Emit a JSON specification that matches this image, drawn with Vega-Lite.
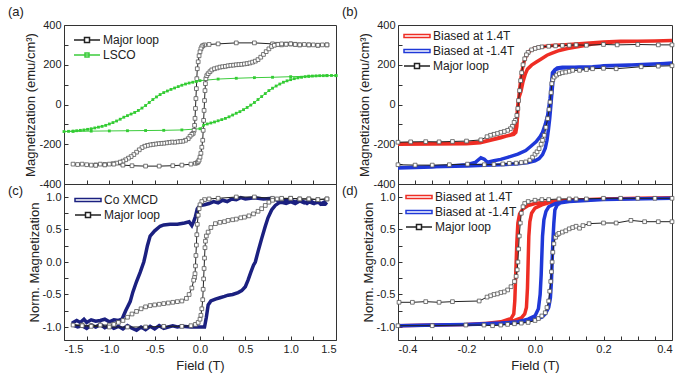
{
"$schema": "https://vega.github.io/schema/vega-lite/v6.json",
"padding": {"left": 7, "top": 5, "right": 5, "bottom": 5},
"background": "white",
"config": {
  "font": "Liberation Sans",
  "view": {"stroke": "#333", "strokeWidth": 1},
  "axis": {"grid": false, "domain": false, "tickSize": -4, "tickColor": "#333", "labelFontSize": 11, "labelColor": "#222", "titleFontSize": 13, "titleFontWeight": "normal", "titleColor": "#222", "labelPadding": 7, "labelFont": "Liberation Sans", "titleFont": "Liberation Sans"},
  "axisY": {"titlePadding": 1},
  "title": {"fontSize": 13, "fontWeight": "normal", "anchor": "start", "frame": "group", "color": "#222", "font": "Liberation Sans"},
  "legend": {"symbolSize": 100, "labelFontSize": 12, "labelColor": "#222", "labelOffset": 18, "rowPadding": 3, "labelFont": "Liberation Sans", "symbolOpacity": 1}
},
"datasets": {
"a": [
{"s":"Major loop","x":1.4,"y":300},{"s":"Major loop","x":1.35,"y":300},{"s":"Major loop","x":1.3,"y":298},{"s":"Major loop","x":1.25,"y":300},{"s":"Major loop","x":1.2,"y":300},{"s":"Major loop","x":1.15,"y":302},{"s":"Major loop","x":1.1,"y":300},{"s":"Major loop","x":1.05,"y":303},{"s":"Major loop","x":1.0,"y":305},{"s":"Major loop","x":0.95,"y":304},{"s":"Major loop","x":0.9,"y":300},{"s":"Major loop","x":0.85,"y":303},{"s":"Major loop","x":0.8,"y":305},{"s":"Major loop","x":0.6,"y":310},{"s":"Major loop","x":0.4,"y":310},{"s":"Major loop","x":0.2,"y":305},{"s":"Major loop","x":0.1,"y":302},{"s":"Major loop","x":0.05,"y":300},{"s":"Major loop","x":0.03,"y":296},{"s":"Major loop","x":0.02,"y":290},{"s":"Major loop","x":0.01,"y":280},{"s":"Major loop","x":0.0,"y":265},{"s":"Major loop","x":-0.01,"y":245},{"s":"Major loop","x":-0.02,"y":215},{"s":"Major loop","x":-0.03,"y":180},{"s":"Major loop","x":-0.035,"y":130},{"s":"Major loop","x":-0.04,"y":80},{"s":"Major loop","x":-0.045,"y":30},{"s":"Major loop","x":-0.05,"y":-20},{"s":"Major loop","x":-0.055,"y":-70},{"s":"Major loop","x":-0.06,"y":-105},{"s":"Major loop","x":-0.065,"y":-130},{"s":"Major loop","x":-0.075,"y":-145},{"s":"Major loop","x":-0.09,"y":-150},{"s":"Major loop","x":-0.11,"y":-160},{"s":"Major loop","x":-0.13,"y":-172},{"s":"Major loop","x":-0.16,"y":-180},{"s":"Major loop","x":-0.19,"y":-185},{"s":"Major loop","x":-0.22,"y":-186},{"s":"Major loop","x":-0.25,"y":-188},{"s":"Major loop","x":-0.28,"y":-190},{"s":"Major loop","x":-0.31,"y":-189},{"s":"Major loop","x":-0.34,"y":-191},{"s":"Major loop","x":-0.37,"y":-193},{"s":"Major loop","x":-0.4,"y":-195},{"s":"Major loop","x":-0.43,"y":-196},{"s":"Major loop","x":-0.46,"y":-197},{"s":"Major loop","x":-0.49,"y":-199},{"s":"Major loop","x":-0.52,"y":-201},{"s":"Major loop","x":-0.55,"y":-203},{"s":"Major loop","x":-0.58,"y":-206},{"s":"Major loop","x":-0.61,"y":-210},{"s":"Major loop","x":-0.64,"y":-217},{"s":"Major loop","x":-0.67,"y":-228},{"s":"Major loop","x":-0.7,"y":-240},{"s":"Major loop","x":-0.73,"y":-252},{"s":"Major loop","x":-0.76,"y":-262},{"s":"Major loop","x":-0.79,"y":-270},{"s":"Major loop","x":-0.82,"y":-278},{"s":"Major loop","x":-0.85,"y":-285},{"s":"Major loop","x":-0.88,"y":-290},{"s":"Major loop","x":-0.92,"y":-295},{"s":"Major loop","x":-0.96,"y":-298},{"s":"Major loop","x":-1.0,"y":-300},{"s":"Major loop","x":-1.05,"y":-302},{"s":"Major loop","x":-1.1,"y":-300},{"s":"Major loop","x":-1.15,"y":-304},{"s":"Major loop","x":-1.2,"y":-305},{"s":"Major loop","x":-1.3,"y":-300},{"s":"Major loop","x":-1.4,"y":-300},
{"s":"Major loop","x":-1.35,"y":-302},{"s":"Major loop","x":-1.25,"y":-303},{"s":"Major loop","x":-1.15,"y":-306},{"s":"Major loop","x":-1.05,"y":-304},{"s":"Major loop","x":-0.95,"y":-300},{"s":"Major loop","x":-0.85,"y":-305},{"s":"Major loop","x":-0.75,"y":-308},{"s":"Major loop","x":-0.6,"y":-310},{"s":"Major loop","x":-0.45,"y":-310},{"s":"Major loop","x":-0.3,"y":-308},{"s":"Major loop","x":-0.2,"y":-305},{"s":"Major loop","x":-0.1,"y":-300},{"s":"Major loop","x":-0.05,"y":-296},{"s":"Major loop","x":-0.03,"y":-293},{"s":"Major loop","x":-0.02,"y":-288},{"s":"Major loop","x":-0.01,"y":-280},{"s":"Major loop","x":0.0,"y":-265},{"s":"Major loop","x":0.01,"y":-245},{"s":"Major loop","x":0.02,"y":-215},{"s":"Major loop","x":0.03,"y":-180},{"s":"Major loop","x":0.035,"y":-130},{"s":"Major loop","x":0.04,"y":-80},{"s":"Major loop","x":0.045,"y":-30},{"s":"Major loop","x":0.05,"y":20},{"s":"Major loop","x":0.055,"y":70},{"s":"Major loop","x":0.06,"y":105},{"s":"Major loop","x":0.065,"y":130},{"s":"Major loop","x":0.075,"y":145},{"s":"Major loop","x":0.09,"y":155},{"s":"Major loop","x":0.11,"y":165},{"s":"Major loop","x":0.13,"y":174},{"s":"Major loop","x":0.16,"y":180},{"s":"Major loop","x":0.19,"y":184},{"s":"Major loop","x":0.22,"y":188},{"s":"Major loop","x":0.25,"y":190},{"s":"Major loop","x":0.28,"y":192},{"s":"Major loop","x":0.31,"y":195},{"s":"Major loop","x":0.34,"y":197},{"s":"Major loop","x":0.37,"y":198},{"s":"Major loop","x":0.4,"y":200},{"s":"Major loop","x":0.43,"y":201},{"s":"Major loop","x":0.46,"y":202},{"s":"Major loop","x":0.49,"y":204},{"s":"Major loop","x":0.52,"y":206},{"s":"Major loop","x":0.55,"y":209},{"s":"Major loop","x":0.58,"y":213},{"s":"Major loop","x":0.61,"y":218},{"s":"Major loop","x":0.64,"y":226},{"s":"Major loop","x":0.67,"y":238},{"s":"Major loop","x":0.7,"y":252},{"s":"Major loop","x":0.73,"y":266},{"s":"Major loop","x":0.76,"y":280},{"s":"Major loop","x":0.79,"y":292},{"s":"Major loop","x":0.82,"y":298},{"s":"Major loop","x":0.86,"y":302},{"s":"Major loop","x":0.9,"y":305},{"s":"Major loop","x":0.95,"y":303},{"s":"Major loop","x":1.0,"y":305},{"s":"Major loop","x":1.05,"y":302},{"s":"Major loop","x":1.1,"y":300},{"s":"Major loop","x":1.2,"y":300},{"s":"Major loop","x":1.3,"y":298},{"s":"Major loop","x":1.4,"y":300},
{"s":"LSCO","x":1.5,"y":145},{"s":"LSCO","x":1.4,"y":145},{"s":"LSCO","x":1.2,"y":142},{"s":"LSCO","x":1.0,"y":140},{"s":"LSCO","x":0.8,"y":137},{"s":"LSCO","x":0.6,"y":135},{"s":"LSCO","x":0.4,"y":132},{"s":"LSCO","x":0.2,"y":128},{"s":"LSCO","x":0.0,"y":120},{"s":"LSCO","x":-0.04,"y":116},{"s":"LSCO","x":-0.08,"y":112},{"s":"LSCO","x":-0.12,"y":108},{"s":"LSCO","x":-0.16,"y":103},{"s":"LSCO","x":-0.2,"y":97},{"s":"LSCO","x":-0.24,"y":90},{"s":"LSCO","x":-0.28,"y":83},{"s":"LSCO","x":-0.32,"y":76},{"s":"LSCO","x":-0.36,"y":68},{"s":"LSCO","x":-0.4,"y":60},{"s":"LSCO","x":-0.44,"y":50},{"s":"LSCO","x":-0.48,"y":38},{"s":"LSCO","x":-0.52,"y":25},{"s":"LSCO","x":-0.56,"y":10},{"s":"LSCO","x":-0.6,"y":-5},{"s":"LSCO","x":-0.64,"y":-18},{"s":"LSCO","x":-0.68,"y":-30},{"s":"LSCO","x":-0.72,"y":-40},{"s":"LSCO","x":-0.76,"y":-48},{"s":"LSCO","x":-0.8,"y":-56},{"s":"LSCO","x":-0.84,"y":-64},{"s":"LSCO","x":-0.88,"y":-74},{"s":"LSCO","x":-0.92,"y":-83},{"s":"LSCO","x":-0.96,"y":-91},{"s":"LSCO","x":-1.0,"y":-98},{"s":"LSCO","x":-1.04,"y":-105},{"s":"LSCO","x":-1.08,"y":-110},{"s":"LSCO","x":-1.12,"y":-114},{"s":"LSCO","x":-1.16,"y":-118},{"s":"LSCO","x":-1.2,"y":-122},{"s":"LSCO","x":-1.24,"y":-125},{"s":"LSCO","x":-1.28,"y":-128},{"s":"LSCO","x":-1.32,"y":-130},{"s":"LSCO","x":-1.36,"y":-132},{"s":"LSCO","x":-1.4,"y":-134},{"s":"LSCO","x":-1.45,"y":-135},{"s":"LSCO","x":-1.5,"y":-136},
{"s":"LSCO","x":-1.4,"y":-135},{"s":"LSCO","x":-1.2,"y":-134},{"s":"LSCO","x":-1.0,"y":-133},{"s":"LSCO","x":-0.8,"y":-132},{"s":"LSCO","x":-0.6,"y":-131},{"s":"LSCO","x":-0.4,"y":-130},{"s":"LSCO","x":-0.2,"y":-128},{"s":"LSCO","x":0.0,"y":-122},{"s":"LSCO","x":0.04,"y":-104},{"s":"LSCO","x":0.08,"y":-98},{"s":"LSCO","x":0.12,"y":-93},{"s":"LSCO","x":0.16,"y":-88},{"s":"LSCO","x":0.2,"y":-82},{"s":"LSCO","x":0.24,"y":-76},{"s":"LSCO","x":0.28,"y":-70},{"s":"LSCO","x":0.32,"y":-62},{"s":"LSCO","x":0.36,"y":-53},{"s":"LSCO","x":0.4,"y":-44},{"s":"LSCO","x":0.44,"y":-36},{"s":"LSCO","x":0.48,"y":-26},{"s":"LSCO","x":0.52,"y":-15},{"s":"LSCO","x":0.56,"y":-3},{"s":"LSCO","x":0.6,"y":10},{"s":"LSCO","x":0.64,"y":25},{"s":"LSCO","x":0.68,"y":40},{"s":"LSCO","x":0.72,"y":55},{"s":"LSCO","x":0.76,"y":70},{"s":"LSCO","x":0.8,"y":82},{"s":"LSCO","x":0.84,"y":93},{"s":"LSCO","x":0.88,"y":103},{"s":"LSCO","x":0.92,"y":112},{"s":"LSCO","x":0.96,"y":119},{"s":"LSCO","x":1.0,"y":125},{"s":"LSCO","x":1.04,"y":130},{"s":"LSCO","x":1.08,"y":134},{"s":"LSCO","x":1.12,"y":137},{"s":"LSCO","x":1.16,"y":140},{"s":"LSCO","x":1.2,"y":142},{"s":"LSCO","x":1.24,"y":143},{"s":"LSCO","x":1.28,"y":144},{"s":"LSCO","x":1.32,"y":145},{"s":"LSCO","x":1.36,"y":145},{"s":"LSCO","x":1.4,"y":146},{"s":"LSCO","x":1.45,"y":146},{"s":"LSCO","x":1.5,"y":146}
],
"b": [
{"s":"Biased at 1.4T","x":0.4,"y":322},{"s":"Biased at 1.4T","x":0.35,"y":320},{"s":"Biased at 1.4T","x":0.3,"y":318},{"s":"Biased at 1.4T","x":0.25,"y":318},{"s":"Biased at 1.4T","x":0.2,"y":314},{"s":"Biased at 1.4T","x":0.15,"y":308},{"s":"Biased at 1.4T","x":0.1,"y":302},{"s":"Biased at 1.4T","x":0.05,"y":297},{"s":"Biased at 1.4T","x":0.02,"y":291},{"s":"Biased at 1.4T","x":0.0,"y":283},{"s":"Biased at 1.4T","x":-0.015,"y":270},{"s":"Biased at 1.4T","x":-0.025,"y":248},{"s":"Biased at 1.4T","x":-0.032,"y":215},{"s":"Biased at 1.4T","x":-0.038,"y":170},{"s":"Biased at 1.4T","x":-0.042,"y":120},{"s":"Biased at 1.4T","x":-0.046,"y":60},{"s":"Biased at 1.4T","x":-0.049,"y":0},{"s":"Biased at 1.4T","x":-0.051,"y":-60},{"s":"Biased at 1.4T","x":-0.053,"y":-110},{"s":"Biased at 1.4T","x":-0.056,"y":-140},{"s":"Biased at 1.4T","x":-0.062,"y":-150},{"s":"Biased at 1.4T","x":-0.08,"y":-157},{"s":"Biased at 1.4T","x":-0.1,"y":-165},{"s":"Biased at 1.4T","x":-0.13,"y":-178},{"s":"Biased at 1.4T","x":-0.16,"y":-190},{"s":"Biased at 1.4T","x":-0.2,"y":-195},{"s":"Biased at 1.4T","x":-0.3,"y":-197},{"s":"Biased at 1.4T","x":-0.4,"y":-198},
{"s":"Biased at 1.4T","x":-0.4,"y":-200},{"s":"Biased at 1.4T","x":-0.3,"y":-199},{"s":"Biased at 1.4T","x":-0.2,"y":-197},{"s":"Biased at 1.4T","x":-0.16,"y":-193},{"s":"Biased at 1.4T","x":-0.1,"y":-168},{"s":"Biased at 1.4T","x":-0.07,"y":-152},{"s":"Biased at 1.4T","x":-0.06,"y":-140},{"s":"Biased at 1.4T","x":-0.055,"y":-100},{"s":"Biased at 1.4T","x":-0.052,"y":-40},{"s":"Biased at 1.4T","x":-0.049,"y":20},{"s":"Biased at 1.4T","x":-0.045,"y":45},{"s":"Biased at 1.4T","x":-0.041,"y":65},{"s":"Biased at 1.4T","x":-0.035,"y":115},{"s":"Biased at 1.4T","x":-0.028,"y":155},{"s":"Biased at 1.4T","x":-0.022,"y":178},{"s":"Biased at 1.4T","x":-0.01,"y":198},{"s":"Biased at 1.4T","x":0.005,"y":215},{"s":"Biased at 1.4T","x":0.017,"y":228},{"s":"Biased at 1.4T","x":0.035,"y":248},{"s":"Biased at 1.4T","x":0.05,"y":258},{"s":"Biased at 1.4T","x":0.071,"y":272},{"s":"Biased at 1.4T","x":0.095,"y":282},{"s":"Biased at 1.4T","x":0.12,"y":289},{"s":"Biased at 1.4T","x":0.145,"y":297},{"s":"Biased at 1.4T","x":0.168,"y":304},{"s":"Biased at 1.4T","x":0.2,"y":310},{"s":"Biased at 1.4T","x":0.237,"y":316},{"s":"Biased at 1.4T","x":0.3,"y":318},{"s":"Biased at 1.4T","x":0.35,"y":320},{"s":"Biased at 1.4T","x":0.4,"y":322},
{"s":"Biased at -1.4T","x":0.4,"y":206},{"s":"Biased at -1.4T","x":0.35,"y":204},{"s":"Biased at -1.4T","x":0.3,"y":200},{"s":"Biased at -1.4T","x":0.25,"y":198},{"s":"Biased at -1.4T","x":0.2,"y":195},{"s":"Biased at -1.4T","x":0.17,"y":188},{"s":"Biased at -1.4T","x":0.15,"y":182},{"s":"Biased at -1.4T","x":0.13,"y":185},{"s":"Biased at -1.4T","x":0.1,"y":187},{"s":"Biased at -1.4T","x":0.08,"y":187},{"s":"Biased at -1.4T","x":0.065,"y":184},{"s":"Biased at -1.4T","x":0.058,"y":175},{"s":"Biased at -1.4T","x":0.055,"y":150},{"s":"Biased at -1.4T","x":0.052,"y":110},{"s":"Biased at -1.4T","x":0.049,"y":50},{"s":"Biased at -1.4T","x":0.046,"y":-10},{"s":"Biased at -1.4T","x":0.043,"y":-70},{"s":"Biased at -1.4T","x":0.039,"y":-130},{"s":"Biased at -1.4T","x":0.035,"y":-180},{"s":"Biased at -1.4T","x":0.03,"y":-220},{"s":"Biased at -1.4T","x":0.022,"y":-252},{"s":"Biased at -1.4T","x":0.012,"y":-272},{"s":"Biased at -1.4T","x":0.0,"y":-283},{"s":"Biased at -1.4T","x":-0.02,"y":-292},{"s":"Biased at -1.4T","x":-0.05,"y":-298},{"s":"Biased at -1.4T","x":-0.1,"y":-303},{"s":"Biased at -1.4T","x":-0.15,"y":-306},{"s":"Biased at -1.4T","x":-0.2,"y":-309},{"s":"Biased at -1.4T","x":-0.3,"y":-313},{"s":"Biased at -1.4T","x":-0.4,"y":-318},
{"s":"Biased at -1.4T","x":-0.4,"y":-320},{"s":"Biased at -1.4T","x":-0.3,"y":-315},{"s":"Biased at -1.4T","x":-0.25,"y":-310},{"s":"Biased at -1.4T","x":-0.2,"y":-303},{"s":"Biased at -1.4T","x":-0.175,"y":-292},{"s":"Biased at -1.4T","x":-0.158,"y":-268},{"s":"Biased at -1.4T","x":-0.148,"y":-275},{"s":"Biased at -1.4T","x":-0.139,"y":-290},{"s":"Biased at -1.4T","x":-0.12,"y":-283},{"s":"Biased at -1.4T","x":-0.1,"y":-276},{"s":"Biased at -1.4T","x":-0.08,"y":-266},{"s":"Biased at -1.4T","x":-0.05,"y":-250},{"s":"Biased at -1.4T","x":-0.027,"y":-232},{"s":"Biased at -1.4T","x":-0.012,"y":-210},{"s":"Biased at -1.4T","x":0.003,"y":-188},{"s":"Biased at -1.4T","x":0.015,"y":-162},{"s":"Biased at -1.4T","x":0.022,"y":-140},{"s":"Biased at -1.4T","x":0.03,"y":-100},{"s":"Biased at -1.4T","x":0.037,"y":-54},{"s":"Biased at -1.4T","x":0.044,"y":29},{"s":"Biased at -1.4T","x":0.048,"y":100},{"s":"Biased at -1.4T","x":0.051,"y":160},{"s":"Biased at -1.4T","x":0.058,"y":175},{"s":"Biased at -1.4T","x":0.071,"y":182},{"s":"Biased at -1.4T","x":0.1,"y":186},{"s":"Biased at -1.4T","x":0.13,"y":189},{"s":"Biased at -1.4T","x":0.168,"y":190},{"s":"Biased at -1.4T","x":0.2,"y":194},{"s":"Biased at -1.4T","x":0.265,"y":198},{"s":"Biased at -1.4T","x":0.33,"y":202},{"s":"Biased at -1.4T","x":0.4,"y":207},
{"s":"Major loop","g":1,"x":0.4,"y":300},{"s":"Major loop","g":1,"x":0.36,"y":300},{"s":"Major loop","g":1,"x":0.3,"y":302},{"s":"Major loop","g":1,"x":0.24,"y":300},{"s":"Major loop","g":1,"x":0.2,"y":302},{"s":"Major loop","g":1,"x":0.15,"y":298},{"s":"Major loop","g":1,"x":0.12,"y":300},{"s":"Major loop","g":1,"x":0.1,"y":298},{"s":"Major loop","g":1,"x":0.08,"y":297},{"s":"Major loop","g":1,"x":0.06,"y":295},{"s":"Major loop","g":1,"x":0.04,"y":293},{"s":"Major loop","g":1,"x":0.02,"y":290},{"s":"Major loop","g":1,"x":0.01,"y":287},{"s":"Major loop","g":1,"x":0.0,"y":282},{"s":"Major loop","g":1,"x":-0.01,"y":275},{"s":"Major loop","g":1,"x":-0.02,"y":262},{"s":"Major loop","g":1,"x":-0.025,"y":250},{"s":"Major loop","g":1,"x":-0.03,"y":230},{"s":"Major loop","g":1,"x":-0.035,"y":200},{"s":"Major loop","g":1,"x":-0.039,"y":160},{"s":"Major loop","g":1,"x":-0.042,"y":120},{"s":"Major loop","g":1,"x":-0.045,"y":70},{"s":"Major loop","g":1,"x":-0.048,"y":20},{"s":"Major loop","g":1,"x":-0.05,"y":-20},{"s":"Major loop","g":1,"x":-0.053,"y":-55},{"s":"Major loop","g":1,"x":-0.057,"y":-80},{"s":"Major loop","g":1,"x":-0.061,"y":-90},{"s":"Major loop","g":1,"x":-0.066,"y":-110},{"s":"Major loop","g":1,"x":-0.072,"y":-122},{"s":"Major loop","g":1,"x":-0.08,"y":-130},{"s":"Major loop","g":1,"x":-0.09,"y":-136},{"s":"Major loop","g":1,"x":-0.1,"y":-140},{"s":"Major loop","g":1,"x":-0.11,"y":-146},{"s":"Major loop","g":1,"x":-0.12,"y":-150},{"s":"Major loop","g":1,"x":-0.13,"y":-155},{"s":"Major loop","g":1,"x":-0.14,"y":-162},{"s":"Major loop","g":1,"x":-0.158,"y":-178},{"s":"Major loop","g":1,"x":-0.2,"y":-184},{"s":"Major loop","g":1,"x":-0.241,"y":-186},{"s":"Major loop","g":1,"x":-0.28,"y":-188},{"s":"Major loop","g":1,"x":-0.319,"y":-187},{"s":"Major loop","g":1,"x":-0.363,"y":-188},{"s":"Major loop","g":1,"x":-0.4,"y":-190},
{"s":"Major loop","g":2,"x":-0.4,"y":-303},{"s":"Major loop","g":2,"x":-0.35,"y":-305},{"s":"Major loop","g":2,"x":-0.3,"y":-305},{"s":"Major loop","g":2,"x":-0.25,"y":-303},{"s":"Major loop","g":2,"x":-0.197,"y":-300},{"s":"Major loop","g":2,"x":-0.148,"y":-303},{"s":"Major loop","g":2,"x":-0.12,"y":-302},{"s":"Major loop","g":2,"x":-0.094,"y":-299},{"s":"Major loop","g":2,"x":-0.075,"y":-296},{"s":"Major loop","g":2,"x":-0.055,"y":-295},{"s":"Major loop","g":2,"x":-0.04,"y":-292},{"s":"Major loop","g":2,"x":-0.027,"y":-289},{"s":"Major loop","g":2,"x":-0.015,"y":-280},{"s":"Major loop","g":2,"x":-0.007,"y":-265},{"s":"Major loop","g":2,"x":0.0,"y":-250},{"s":"Major loop","g":2,"x":0.006,"y":-238},{"s":"Major loop","g":2,"x":0.012,"y":-222},{"s":"Major loop","g":2,"x":0.018,"y":-200},{"s":"Major loop","g":2,"x":0.022,"y":-180},{"s":"Major loop","g":2,"x":0.027,"y":-155},{"s":"Major loop","g":2,"x":0.032,"y":-115},{"s":"Major loop","g":2,"x":0.037,"y":-71},{"s":"Major loop","g":2,"x":0.041,"y":-25},{"s":"Major loop","g":2,"x":0.044,"y":12},{"s":"Major loop","g":2,"x":0.047,"y":60},{"s":"Major loop","g":2,"x":0.049,"y":105},{"s":"Major loop","g":2,"x":0.052,"y":125},{"s":"Major loop","g":2,"x":0.056,"y":138},{"s":"Major loop","g":2,"x":0.063,"y":148},{"s":"Major loop","g":2,"x":0.071,"y":155},{"s":"Major loop","g":2,"x":0.08,"y":160},{"s":"Major loop","g":2,"x":0.09,"y":163},{"s":"Major loop","g":2,"x":0.1,"y":167},{"s":"Major loop","g":2,"x":0.11,"y":172},{"s":"Major loop","g":2,"x":0.13,"y":172},{"s":"Major loop","g":2,"x":0.15,"y":176},{"s":"Major loop","g":2,"x":0.168,"y":180},{"s":"Major loop","g":2,"x":0.2,"y":182},{"s":"Major loop","g":2,"x":0.237,"y":180},{"s":"Major loop","g":2,"x":0.31,"y":190},{"s":"Major loop","g":2,"x":0.36,"y":193},{"s":"Major loop","g":2,"x":0.4,"y":195}
],
"c": [
{"s":"Co XMCD","x":1.4,"y":0.88},{"s":"Co XMCD","x":1.37,"y":0.92},{"s":"Co XMCD","x":1.33,"y":0.89},{"s":"Co XMCD","x":1.3,"y":0.93},{"s":"Co XMCD","x":1.26,"y":0.9},{"s":"Co XMCD","x":1.22,"y":0.94},{"s":"Co XMCD","x":1.18,"y":0.9},{"s":"Co XMCD","x":1.14,"y":0.93},{"s":"Co XMCD","x":1.1,"y":0.95},{"s":"Co XMCD","x":1.05,"y":0.92},{"s":"Co XMCD","x":1.0,"y":0.96},{"s":"Co XMCD","x":0.95,"y":0.94},{"s":"Co XMCD","x":0.9,"y":0.97},{"s":"Co XMCD","x":0.85,"y":0.95},{"s":"Co XMCD","x":0.8,"y":0.98},{"s":"Co XMCD","x":0.7,"y":0.97},{"s":"Co XMCD","x":0.6,"y":0.99},{"s":"Co XMCD","x":0.5,"y":0.97},{"s":"Co XMCD","x":0.45,"y":0.99},{"s":"Co XMCD","x":0.4,"y":0.96},{"s":"Co XMCD","x":0.35,"y":0.97},{"s":"Co XMCD","x":0.3,"y":0.93},{"s":"Co XMCD","x":0.25,"y":0.95},{"s":"Co XMCD","x":0.2,"y":0.91},{"s":"Co XMCD","x":0.15,"y":0.93},{"s":"Co XMCD","x":0.1,"y":0.9},{"s":"Co XMCD","x":0.05,"y":0.88},{"s":"Co XMCD","x":0.0,"y":0.87},{"s":"Co XMCD","x":-0.03,"y":0.82},{"s":"Co XMCD","x":-0.05,"y":0.7},{"s":"Co XMCD","x":-0.07,"y":0.62},{"s":"Co XMCD","x":-0.09,"y":0.56},{"s":"Co XMCD","x":-0.12,"y":0.62},{"s":"Co XMCD","x":-0.17,"y":0.6},{"s":"Co XMCD","x":-0.25,"y":0.58},{"s":"Co XMCD","x":-0.33,"y":0.58},{"s":"Co XMCD","x":-0.4,"y":0.57},{"s":"Co XMCD","x":-0.44,"y":0.55},{"s":"Co XMCD","x":-0.5,"y":0.48},{"s":"Co XMCD","x":-0.55,"y":0.4},{"s":"Co XMCD","x":-0.58,"y":0.25},{"s":"Co XMCD","x":-0.6,"y":0.12},{"s":"Co XMCD","x":-0.62,"y":0.0},{"s":"Co XMCD","x":-0.66,"y":-0.16},{"s":"Co XMCD","x":-0.7,"y":-0.3},{"s":"Co XMCD","x":-0.74,"y":-0.46},{"s":"Co XMCD","x":-0.77,"y":-0.61},{"s":"Co XMCD","x":-0.82,"y":-0.75},{"s":"Co XMCD","x":-0.86,"y":-0.88},{"s":"Co XMCD","x":-0.9,"y":-0.9},{"s":"Co XMCD","x":-0.95,"y":-0.89},{"s":"Co XMCD","x":-1.0,"y":-0.92},{"s":"Co XMCD","x":-1.05,"y":-0.88},{"s":"Co XMCD","x":-1.1,"y":-0.9},{"s":"Co XMCD","x":-1.15,"y":-0.91},{"s":"Co XMCD","x":-1.2,"y":-0.89},{"s":"Co XMCD","x":-1.25,"y":-0.93},{"s":"Co XMCD","x":-1.28,"y":-0.88},{"s":"Co XMCD","x":-1.32,"y":-0.93},{"s":"Co XMCD","x":-1.36,"y":-0.9},{"s":"Co XMCD","x":-1.4,"y":-0.93},
{"s":"Co XMCD","x":-1.4,"y":-0.97},{"s":"Co XMCD","x":-1.35,"y":-1.0},{"s":"Co XMCD","x":-1.3,"y":-0.98},{"s":"Co XMCD","x":-1.25,"y":-1.02},{"s":"Co XMCD","x":-1.2,"y":-0.97},{"s":"Co XMCD","x":-1.15,"y":-1.0},{"s":"Co XMCD","x":-1.1,"y":-0.96},{"s":"Co XMCD","x":-1.05,"y":-1.01},{"s":"Co XMCD","x":-1.0,"y":-0.98},{"s":"Co XMCD","x":-0.95,"y":-1.02},{"s":"Co XMCD","x":-0.9,"y":-0.99},{"s":"Co XMCD","x":-0.85,"y":-1.03},{"s":"Co XMCD","x":-0.8,"y":-0.98},{"s":"Co XMCD","x":-0.75,"y":-1.02},{"s":"Co XMCD","x":-0.7,"y":-1.05},{"s":"Co XMCD","x":-0.65,"y":-1.0},{"s":"Co XMCD","x":-0.6,"y":-1.04},{"s":"Co XMCD","x":-0.55,"y":-0.99},{"s":"Co XMCD","x":-0.5,"y":-1.03},{"s":"Co XMCD","x":-0.45,"y":-0.98},{"s":"Co XMCD","x":-0.4,"y":-1.02},{"s":"Co XMCD","x":-0.35,"y":-1.0},{"s":"Co XMCD","x":-0.3,"y":-0.98},{"s":"Co XMCD","x":-0.25,"y":-1.0},{"s":"Co XMCD","x":-0.2,"y":-0.99},{"s":"Co XMCD","x":-0.1,"y":-1.0},{"s":"Co XMCD","x":0.0,"y":-1.0},{"s":"Co XMCD","x":0.05,"y":-1.0},{"s":"Co XMCD","x":0.07,"y":-0.85},{"s":"Co XMCD","x":0.09,"y":-0.66},{"s":"Co XMCD","x":0.12,"y":-0.6},{"s":"Co XMCD","x":0.17,"y":-0.57},{"s":"Co XMCD","x":0.22,"y":-0.55},{"s":"Co XMCD","x":0.27,"y":-0.53},{"s":"Co XMCD","x":0.31,"y":-0.51},{"s":"Co XMCD","x":0.36,"y":-0.5},{"s":"Co XMCD","x":0.42,"y":-0.47},{"s":"Co XMCD","x":0.46,"y":-0.44},{"s":"Co XMCD","x":0.5,"y":-0.38},{"s":"Co XMCD","x":0.53,"y":-0.28},{"s":"Co XMCD","x":0.56,"y":-0.16},{"s":"Co XMCD","x":0.59,"y":-0.05},{"s":"Co XMCD","x":0.61,"y":0.0},{"s":"Co XMCD","x":0.64,"y":0.16},{"s":"Co XMCD","x":0.68,"y":0.36},{"s":"Co XMCD","x":0.72,"y":0.55},{"s":"Co XMCD","x":0.75,"y":0.68},{"s":"Co XMCD","x":0.79,"y":0.8},{"s":"Co XMCD","x":0.83,"y":0.87},{"s":"Co XMCD","x":0.87,"y":0.91},{"s":"Co XMCD","x":0.9,"y":0.92},{"s":"Co XMCD","x":0.95,"y":0.9},{"s":"Co XMCD","x":1.0,"y":0.93},{"s":"Co XMCD","x":1.05,"y":0.9},{"s":"Co XMCD","x":1.1,"y":0.94},{"s":"Co XMCD","x":1.15,"y":0.91},{"s":"Co XMCD","x":1.2,"y":0.93},{"s":"Co XMCD","x":1.25,"y":0.9},{"s":"Co XMCD","x":1.3,"y":0.92},{"s":"Co XMCD","x":1.35,"y":0.89},{"s":"Co XMCD","x":1.4,"y":0.9},
{"s":"Major loop","x":1.4,"y":0.97},{"s":"Major loop","x":1.3,"y":0.96},{"s":"Major loop","x":1.2,"y":0.97},{"s":"Major loop","x":1.1,"y":0.97},{"s":"Major loop","x":1.0,"y":0.98},{"s":"Major loop","x":0.9,"y":0.97},{"s":"Major loop","x":0.8,"y":0.98},{"s":"Major loop","x":0.6,"y":1.0},{"s":"Major loop","x":0.4,"y":1.0},{"s":"Major loop","x":0.2,"y":0.98},{"s":"Major loop","x":0.1,"y":0.97},{"s":"Major loop","x":0.05,"y":0.96},{"s":"Major loop","x":0.02,"y":0.93},{"s":"Major loop","x":0.0,"y":0.88},{"s":"Major loop","x":-0.01,"y":0.82},{"s":"Major loop","x":-0.02,"y":0.72},{"s":"Major loop","x":-0.03,"y":0.58},{"s":"Major loop","x":-0.035,"y":0.42},{"s":"Major loop","x":-0.04,"y":0.26},{"s":"Major loop","x":-0.045,"y":0.1},{"s":"Major loop","x":-0.05,"y":-0.06},{"s":"Major loop","x":-0.055,"y":-0.18},{"s":"Major loop","x":-0.06,"y":-0.24},{"s":"Major loop","x":-0.07,"y":-0.28},{"s":"Major loop","x":-0.09,"y":-0.4},{"s":"Major loop","x":-0.12,"y":-0.5},{"s":"Major loop","x":-0.15,"y":-0.56},{"s":"Major loop","x":-0.2,"y":-0.6},{"s":"Major loop","x":-0.25,"y":-0.61},{"s":"Major loop","x":-0.3,"y":-0.62},{"s":"Major loop","x":-0.35,"y":-0.63},{"s":"Major loop","x":-0.4,"y":-0.64},{"s":"Major loop","x":-0.45,"y":-0.65},{"s":"Major loop","x":-0.5,"y":-0.66},{"s":"Major loop","x":-0.55,"y":-0.67},{"s":"Major loop","x":-0.6,"y":-0.69},{"s":"Major loop","x":-0.65,"y":-0.72},{"s":"Major loop","x":-0.7,"y":-0.76},{"s":"Major loop","x":-0.75,"y":-0.8},{"s":"Major loop","x":-0.8,"y":-0.85},{"s":"Major loop","x":-0.85,"y":-0.9},{"s":"Major loop","x":-0.9,"y":-0.93},{"s":"Major loop","x":-0.95,"y":-0.96},{"s":"Major loop","x":-1.0,"y":-0.97},{"s":"Major loop","x":-1.1,"y":-0.97},{"s":"Major loop","x":-1.2,"y":-0.98},{"s":"Major loop","x":-1.3,"y":-0.97},{"s":"Major loop","x":-1.4,"y":-0.97},
{"s":"Major loop","x":-1.3,"y":-0.98},{"s":"Major loop","x":-1.2,"y":-0.99},{"s":"Major loop","x":-1.0,"y":-1.0},{"s":"Major loop","x":-0.8,"y":-1.0},{"s":"Major loop","x":-0.6,"y":-1.0},{"s":"Major loop","x":-0.4,"y":-0.99},{"s":"Major loop","x":-0.2,"y":-0.99},{"s":"Major loop","x":-0.1,"y":-0.98},{"s":"Major loop","x":-0.05,"y":-0.96},{"s":"Major loop","x":-0.02,"y":-0.93},{"s":"Major loop","x":0.0,"y":-0.88},{"s":"Major loop","x":0.01,"y":-0.82},{"s":"Major loop","x":0.02,"y":-0.72},{"s":"Major loop","x":0.03,"y":-0.58},{"s":"Major loop","x":0.035,"y":-0.42},{"s":"Major loop","x":0.04,"y":-0.26},{"s":"Major loop","x":0.045,"y":-0.1},{"s":"Major loop","x":0.05,"y":0.06},{"s":"Major loop","x":0.055,"y":0.22},{"s":"Major loop","x":0.06,"y":0.32},{"s":"Major loop","x":0.07,"y":0.4},{"s":"Major loop","x":0.09,"y":0.46},{"s":"Major loop","x":0.12,"y":0.53},{"s":"Major loop","x":0.17,"y":0.59},{"s":"Major loop","x":0.22,"y":0.61},{"s":"Major loop","x":0.27,"y":0.62},{"s":"Major loop","x":0.31,"y":0.64},{"s":"Major loop","x":0.36,"y":0.65},{"s":"Major loop","x":0.4,"y":0.66},{"s":"Major loop","x":0.45,"y":0.68},{"s":"Major loop","x":0.49,"y":0.69},{"s":"Major loop","x":0.54,"y":0.71},{"s":"Major loop","x":0.59,"y":0.74},{"s":"Major loop","x":0.64,"y":0.78},{"s":"Major loop","x":0.68,"y":0.82},{"s":"Major loop","x":0.72,"y":0.87},{"s":"Major loop","x":0.76,"y":0.92},{"s":"Major loop","x":0.8,"y":0.95},{"s":"Major loop","x":0.85,"y":0.97},{"s":"Major loop","x":0.9,"y":0.98},{"s":"Major loop","x":1.0,"y":0.98},{"s":"Major loop","x":1.1,"y":0.97},{"s":"Major loop","x":1.2,"y":0.97},{"s":"Major loop","x":1.3,"y":0.96},{"s":"Major loop","x":1.4,"y":0.97}
],
"d": [
{"s":"Biased at 1.4T","x":0.4,"y":0.99},{"s":"Biased at 1.4T","x":0.3,"y":0.98},{"s":"Biased at 1.4T","x":0.2,"y":0.97},{"s":"Biased at 1.4T","x":0.1,"y":0.95},{"s":"Biased at 1.4T","x":0.05,"y":0.93},{"s":"Biased at 1.4T","x":0.0,"y":0.9},{"s":"Biased at 1.4T","x":-0.02,"y":0.87},{"s":"Biased at 1.4T","x":-0.035,"y":0.82},{"s":"Biased at 1.4T","x":-0.045,"y":0.74},{"s":"Biased at 1.4T","x":-0.05,"y":0.6},{"s":"Biased at 1.4T","x":-0.053,"y":0.3},{"s":"Biased at 1.4T","x":-0.055,"y":0.0},{"s":"Biased at 1.4T","x":-0.057,"y":-0.3},{"s":"Biased at 1.4T","x":-0.059,"y":-0.6},{"s":"Biased at 1.4T","x":-0.062,"y":-0.8},{"s":"Biased at 1.4T","x":-0.07,"y":-0.87},{"s":"Biased at 1.4T","x":-0.1,"y":-0.92},{"s":"Biased at 1.4T","x":-0.15,"y":-0.95},{"s":"Biased at 1.4T","x":-0.2,"y":-0.96},{"s":"Biased at 1.4T","x":-0.3,"y":-0.97},{"s":"Biased at 1.4T","x":-0.4,"y":-0.98},
{"s":"Biased at 1.4T","x":-0.3,"y":-0.97},{"s":"Biased at 1.4T","x":-0.2,"y":-0.96},{"s":"Biased at 1.4T","x":-0.1,"y":-0.93},{"s":"Biased at 1.4T","x":-0.06,"y":-0.9},{"s":"Biased at 1.4T","x":-0.04,"y":-0.86},{"s":"Biased at 1.4T","x":-0.03,"y":-0.8},{"s":"Biased at 1.4T","x":-0.025,"y":-0.7},{"s":"Biased at 1.4T","x":-0.022,"y":-0.4},{"s":"Biased at 1.4T","x":-0.02,"y":0.0},{"s":"Biased at 1.4T","x":-0.018,"y":0.4},{"s":"Biased at 1.4T","x":-0.015,"y":0.62},{"s":"Biased at 1.4T","x":-0.01,"y":0.75},{"s":"Biased at 1.4T","x":0.0,"y":0.83},{"s":"Biased at 1.4T","x":0.02,"y":0.88},{"s":"Biased at 1.4T","x":0.04,"y":0.91},{"s":"Biased at 1.4T","x":0.07,"y":0.93},{"s":"Biased at 1.4T","x":0.1,"y":0.95},{"s":"Biased at 1.4T","x":0.2,"y":0.97},{"s":"Biased at 1.4T","x":0.3,"y":0.98},{"s":"Biased at 1.4T","x":0.4,"y":0.99},
{"s":"Biased at -1.4T","x":0.4,"y":0.98},{"s":"Biased at -1.4T","x":0.2,"y":0.96},{"s":"Biased at -1.4T","x":0.1,"y":0.94},{"s":"Biased at -1.4T","x":0.08,"y":0.92},{"s":"Biased at -1.4T","x":0.065,"y":0.88},{"s":"Biased at -1.4T","x":0.058,"y":0.8},{"s":"Biased at -1.4T","x":0.055,"y":0.6},{"s":"Biased at -1.4T","x":0.052,"y":0.3},{"s":"Biased at -1.4T","x":0.05,"y":0.0},{"s":"Biased at -1.4T","x":0.048,"y":-0.3},{"s":"Biased at -1.4T","x":0.045,"y":-0.55},{"s":"Biased at -1.4T","x":0.04,"y":-0.7},{"s":"Biased at -1.4T","x":0.03,"y":-0.8},{"s":"Biased at -1.4T","x":0.02,"y":-0.85},{"s":"Biased at -1.4T","x":0.0,"y":-0.88},{"s":"Biased at -1.4T","x":-0.02,"y":-0.9},{"s":"Biased at -1.4T","x":-0.05,"y":-0.93},{"s":"Biased at -1.4T","x":-0.1,"y":-0.95},{"s":"Biased at -1.4T","x":-0.2,"y":-0.96},{"s":"Biased at -1.4T","x":-0.3,"y":-0.97},{"s":"Biased at -1.4T","x":-0.4,"y":-0.98},
{"s":"Biased at -1.4T","x":-0.2,"y":-0.96},{"s":"Biased at -1.4T","x":-0.1,"y":-0.94},{"s":"Biased at -1.4T","x":-0.05,"y":-0.92},{"s":"Biased at -1.4T","x":-0.02,"y":-0.88},{"s":"Biased at -1.4T","x":0.0,"y":-0.83},{"s":"Biased at -1.4T","x":0.01,"y":-0.72},{"s":"Biased at -1.4T","x":0.015,"y":-0.5},{"s":"Biased at -1.4T","x":0.018,"y":-0.2},{"s":"Biased at -1.4T","x":0.02,"y":0.1},{"s":"Biased at -1.4T","x":0.022,"y":0.4},{"s":"Biased at -1.4T","x":0.026,"y":0.65},{"s":"Biased at -1.4T","x":0.032,"y":0.78},{"s":"Biased at -1.4T","x":0.04,"y":0.85},{"s":"Biased at -1.4T","x":0.06,"y":0.9},{"s":"Biased at -1.4T","x":0.1,"y":0.93},{"s":"Biased at -1.4T","x":0.2,"y":0.96},{"s":"Biased at -1.4T","x":0.4,"y":0.98},
{"s":"Major loop","g":1,"x":0.4,"y":0.98},{"s":"Major loop","g":1,"x":0.35,"y":0.98},{"s":"Major loop","g":1,"x":0.3,"y":0.98},{"s":"Major loop","g":1,"x":0.25,"y":0.98},{"s":"Major loop","g":1,"x":0.2,"y":0.98},{"s":"Major loop","g":1,"x":0.15,"y":0.97},{"s":"Major loop","g":1,"x":0.12,"y":0.97},{"s":"Major loop","g":1,"x":0.1,"y":0.97},{"s":"Major loop","g":1,"x":0.07,"y":0.97},{"s":"Major loop","g":1,"x":0.04,"y":0.96},{"s":"Major loop","g":1,"x":0.02,"y":0.96},{"s":"Major loop","g":1,"x":0.0,"y":0.95},{"s":"Major loop","g":1,"x":-0.02,"y":0.93},{"s":"Major loop","g":1,"x":-0.03,"y":0.9},{"s":"Major loop","g":1,"x":-0.035,"y":0.85},{"s":"Major loop","g":1,"x":-0.04,"y":0.75},{"s":"Major loop","g":1,"x":-0.043,"y":0.6},{"s":"Major loop","g":1,"x":-0.046,"y":0.4},{"s":"Major loop","g":1,"x":-0.048,"y":0.2},{"s":"Major loop","g":1,"x":-0.05,"y":0.0},{"s":"Major loop","g":1,"x":-0.052,"y":-0.12},{"s":"Major loop","g":1,"x":-0.055,"y":-0.22},{"s":"Major loop","g":1,"x":-0.06,"y":-0.3},{"s":"Major loop","g":1,"x":-0.07,"y":-0.38},{"s":"Major loop","g":1,"x":-0.08,"y":-0.43},{"s":"Major loop","g":1,"x":-0.09,"y":-0.46},{"s":"Major loop","g":1,"x":-0.1,"y":-0.47},{"s":"Major loop","g":1,"x":-0.11,"y":-0.49},{"s":"Major loop","g":1,"x":-0.12,"y":-0.5},{"s":"Major loop","g":1,"x":-0.13,"y":-0.52},{"s":"Major loop","g":1,"x":-0.14,"y":-0.54},{"s":"Major loop","g":1,"x":-0.163,"y":-0.6},{"s":"Major loop","g":1,"x":-0.241,"y":-0.61},{"s":"Major loop","g":1,"x":-0.28,"y":-0.62},{"s":"Major loop","g":1,"x":-0.319,"y":-0.61},{"s":"Major loop","g":1,"x":-0.358,"y":-0.62},{"s":"Major loop","g":1,"x":-0.397,"y":-0.62},
{"s":"Major loop","g":2,"x":-0.4,"y":-0.98},{"s":"Major loop","g":2,"x":-0.3,"y":-0.98},{"s":"Major loop","g":2,"x":-0.202,"y":-0.97},{"s":"Major loop","g":2,"x":-0.149,"y":-0.97},{"s":"Major loop","g":2,"x":-0.124,"y":-0.98},{"s":"Major loop","g":2,"x":-0.1,"y":-0.97},{"s":"Major loop","g":2,"x":-0.08,"y":-0.96},{"s":"Major loop","g":2,"x":-0.06,"y":-0.95},{"s":"Major loop","g":2,"x":-0.04,"y":-0.94},{"s":"Major loop","g":2,"x":-0.02,"y":-0.93},{"s":"Major loop","g":2,"x":0.0,"y":-0.9},{"s":"Major loop","g":2,"x":0.01,"y":-0.87},{"s":"Major loop","g":2,"x":0.02,"y":-0.83},{"s":"Major loop","g":2,"x":0.03,"y":-0.78},{"s":"Major loop","g":2,"x":0.035,"y":-0.7},{"s":"Major loop","g":2,"x":0.04,"y":-0.6},{"s":"Major loop","g":2,"x":0.043,"y":-0.45},{"s":"Major loop","g":2,"x":0.046,"y":-0.3},{"s":"Major loop","g":2,"x":0.048,"y":-0.15},{"s":"Major loop","g":2,"x":0.05,"y":0.0},{"s":"Major loop","g":2,"x":0.052,"y":0.15},{"s":"Major loop","g":2,"x":0.055,"y":0.28},{"s":"Major loop","g":2,"x":0.06,"y":0.38},{"s":"Major loop","g":2,"x":0.065,"y":0.42},{"s":"Major loop","g":2,"x":0.07,"y":0.44},{"s":"Major loop","g":2,"x":0.08,"y":0.46},{"s":"Major loop","g":2,"x":0.09,"y":0.48},{"s":"Major loop","g":2,"x":0.1,"y":0.51},{"s":"Major loop","g":2,"x":0.11,"y":0.53},{"s":"Major loop","g":2,"x":0.12,"y":0.55},{"s":"Major loop","g":2,"x":0.13,"y":0.52},{"s":"Major loop","g":2,"x":0.14,"y":0.56},{"s":"Major loop","g":2,"x":0.158,"y":0.59},{"s":"Major loop","g":2,"x":0.2,"y":0.6},{"s":"Major loop","g":2,"x":0.237,"y":0.6},{"s":"Major loop","g":2,"x":0.28,"y":0.64},{"s":"Major loop","g":2,"x":0.32,"y":0.62},{"s":"Major loop","g":2,"x":0.36,"y":0.62},{"s":"Major loop","g":2,"x":0.4,"y":0.62}
]
},
"columns": 2,
"spacing": {"row": 0, "column": 62},
"bounds": "flush",
"resolve": {"scale": {"color": "independent", "shape": "independent"}},
"concat": [
{
"width": 272, "height": 159,
"title": {"text": "(a)", "dx": -56, "offset": 0},
"data": {"name": "a"},
"transform": [{"window": [{"op": "row_number", "as": "i"}]}],
"encoding": {
  "x": {"field": "x", "type": "quantitative", "scale": {"domain": [-1.5, 1.5], "nice": false, "zero": false}, "axis": {"values": [-1.5,-1.25,-1,-0.75,-0.5,-0.25,0,0.25,0.5,0.75,1,1.25,1.5], "labels": false, "title": null}},
  "y": {"field": "y", "type": "quantitative", "scale": {"domain": [-400, 400], "nice": false}, "axis": {"values": [-400,-300,-200,-100,0,100,200,300,400], "labelExpr": "datum.value % 200 == 0 ? replace(format(datum.value, 'd'), '\u2212', '-') : ''", "title": "Magnetization (emu/cm³)"}}
},
"layer": [
  {"data": {"values": [{}]}, "mark": {"type": "rule", "color": "#444", "strokeWidth": 1}, "encoding": {"y": {"datum": 0}, "x": {"datum": -1.5}, "x2": {"datum": 1.5}}},
  {"data": {"values": [{}]}, "mark": {"type": "rule", "color": "#444", "strokeWidth": 1}, "encoding": {"x": {"datum": 0}, "y": {"datum": -400}, "y2": {"datum": 400}}},
  {"transform": [{"filter": "datum.s == 'Major loop'"}], "mark": {"type": "line", "strokeWidth": 1, "color": "#222222", "clip": true}, "encoding": {"order": {"field": "i", "type": "quantitative"}}},
  {"transform": [{"filter": "datum.s == 'LSCO'"}], "mark": {"type": "line", "strokeWidth": 1, "color": "#3ccc3c", "clip": true}, "encoding": {"order": {"field": "i", "type": "quantitative"}}},
  {"transform": [{"filter": "datum.s == 'Major loop'"}], "mark": {"type": "point", "shape": "square", "size": 14, "filled": true, "fill": "white", "stroke": "#555", "strokeWidth": 0.8, "opacity": 1}},
  {"transform": [{"filter": "datum.s == 'LSCO'"}], "mark": {"type": "point", "shape": "square", "size": 8, "filled": true, "color": "#33cc33", "opacity": 1}},
  {"data": {"values": []}, "mark": {"type": "point", "opacity": 1}, "encoding": {
    "color": {"field": "s", "type": "nominal", "scale": {"domain": ["Major loop", "LSCO"], "range": ["#222222", "#3ccc3c"]}, "legend": {"title": null, "orient": "top-left", "offset": 6, "padding": 3, "encode": {"symbols": {"fill": {"value": {"expr": "datum.value === 'LSCO' ? '#33cc33' : '#ffffff'"}}, "strokeWidth": {"value": 1}, "opacity": {"value": 1}, "fillOpacity": {"value": 1}, "strokeOpacity": {"value": 1}}}}},
    "shape": {"field": "s", "type": "nominal", "scale": {"domain": ["Major loop", "LSCO"], "range": ["M-1,0H1.1M2.1,0H4.2M1.1,-0.5H2.1V0.5H1.1Z", "M-1,0H4.2M1.2,-0.4H2V0.4H1.2Z"]}, "legend": {"title": null, "orient": "top-left", "offset": 6, "padding": 3, "encode": {"symbols": {"fill": {"value": {"expr": "datum.value === 'LSCO' ? '#33cc33' : '#ffffff'"}}, "strokeWidth": {"value": 1}, "opacity": {"value": 1}, "fillOpacity": {"value": 1}, "strokeOpacity": {"value": 1}}}}}
  }}
]
},
{
"width": 274, "height": 159,
"title": {"text": "(b)", "dx": -56, "offset": 0},
"data": {"name": "b"},
"transform": [{"window": [{"op": "row_number", "as": "i"}]}],
"encoding": {
  "x": {"field": "x", "type": "quantitative", "scale": {"domain": [-0.4, 0.4], "nice": false, "zero": false}, "axis": {"values": [-0.4,-0.35,-0.3,-0.25,-0.2,-0.15,-0.1,-0.05,0,0.05,0.1,0.15,0.2,0.25,0.3,0.35,0.4], "labels": false, "title": null}},
  "y": {"field": "y", "type": "quantitative", "scale": {"domain": [-400, 400], "nice": false}, "axis": {"values": [-400,-300,-200,-100,0,100,200,300,400], "labelExpr": "datum.value % 200 == 0 ? replace(format(datum.value, 'd'), '\u2212', '-') : ''", "title": "Magnetization (emu/cm³)"}}
},
"layer": [
  {"data": {"values": [{}]}, "mark": {"type": "rule", "color": "#444", "strokeWidth": 1}, "encoding": {"y": {"datum": 0}, "x": {"datum": -0.4}, "x2": {"datum": 0.4}}},
  {"data": {"values": [{}]}, "mark": {"type": "rule", "color": "#444", "strokeWidth": 1}, "encoding": {"x": {"datum": 0}, "y": {"datum": -400}, "y2": {"datum": 400}}},
  {"transform": [{"filter": "datum.s == 'Biased at 1.4T'"}], "mark": {"type": "line", "strokeWidth": 3.5, "color": "#ee2d24", "clip": true}, "encoding": {"order": {"field": "i", "type": "quantitative"}}},
  {"transform": [{"filter": "datum.s == 'Biased at -1.4T'"}], "mark": {"type": "line", "strokeWidth": 3.5, "color": "#1f38d8", "clip": true}, "encoding": {"order": {"field": "i", "type": "quantitative"}}},
  {"transform": [{"filter": "datum.s == 'Major loop'"}], "mark": {"type": "line", "strokeWidth": 1, "color": "#222222", "clip": true}, "encoding": {"detail": {"field": "g"}, "order": {"field": "i", "type": "quantitative"}}},
  {"transform": [{"filter": "datum.s == 'Major loop'"}], "mark": {"type": "point", "shape": "square", "size": 14, "filled": true, "fill": "white", "stroke": "#555", "strokeWidth": 0.8, "opacity": 1}},
  {"data": {"values": []}, "mark": {"type": "point", "opacity": 1}, "encoding": {
    "color": {"field": "s", "type": "nominal", "scale": {"domain": ["Biased at 1.4T", "Biased at -1.4T", "Major loop"], "range": ["#ee2d24", "#1f38d8", "#222222"]}, "legend": {"title": null, "orient": "top-left", "offset": 3, "padding": 2, "encode": {"symbols": {"fill": {"value": {"expr": "datum.value === 'Biased at 1.4T' ? '#ee2d24' : datum.value === 'Biased at -1.4T' ? '#1f38d8' : '#ffffff'"}}, "strokeWidth": {"value": 1}, "opacity": {"value": 1}, "fillOpacity": {"value": 1}, "strokeOpacity": {"value": 1}}}}},
    "shape": {"field": "s", "type": "nominal", "scale": {"domain": ["Biased at 1.4T", "Biased at -1.4T", "Major loop"], "range": ["M-1,-0.3H4.2V0.3H-1Z", "M-1,-0.3H4.2V0.3H-1Z", "M-1,0H1.1M2.1,0H4.2M1.1,-0.5H2.1V0.5H1.1Z"]}, "legend": {"title": null, "orient": "top-left", "offset": 3, "padding": 2, "encode": {"symbols": {"fill": {"value": {"expr": "datum.value === 'Biased at 1.4T' ? '#ee2d24' : datum.value === 'Biased at -1.4T' ? '#1f38d8' : '#ffffff'"}}, "strokeWidth": {"value": 1}, "opacity": {"value": 1}, "fillOpacity": {"value": 1}, "strokeOpacity": {"value": 1}}}}}
  }}
]
},
{
"width": 272, "height": 156,
"title": {"text": "(c)", "dx": -56, "offset": 0, "dy": 14},
"data": {"name": "c"},
"transform": [{"window": [{"op": "row_number", "as": "i"}]}],
"encoding": {
  "x": {"field": "x", "type": "quantitative", "scale": {"domain": [-1.5, 1.5], "nice": false, "zero": false}, "axis": {"values": [-1.5,-1.25,-1,-0.75,-0.5,-0.25,0,0.25,0.5,0.75,1,1.25,1.5], "labelExpr": "abs(datum.value*2 - round(datum.value*2)) < 0.000001 ? replace(format(datum.value, '.1f'), '\u2212', '-') : ''", "title": "Field (T)", "titlePadding": 5}},
  "y": {"field": "y", "type": "quantitative", "scale": {"domain": [-1.2, 1.2], "nice": false}, "axis": {"values": [-1,-0.75,-0.5,-0.25,0,0.25,0.5,0.75,1], "labelExpr": "abs(datum.value*2 - round(datum.value*2)) < 0.000001 ? replace(format(datum.value, '.1f'), '\u2212', '-') : ''", "title": "Norm. Magnetization"}}
},
"layer": [
  {"data": {"values": [{}]}, "mark": {"type": "rule", "color": "#444", "strokeWidth": 1}, "encoding": {"y": {"datum": 0}, "x": {"datum": -1.5}, "x2": {"datum": 1.5}}},
  {"data": {"values": [{}]}, "mark": {"type": "rule", "color": "#444", "strokeWidth": 1}, "encoding": {"x": {"datum": 0}, "y": {"datum": -1.2}, "y2": {"datum": 1.2}}},
  {"transform": [{"filter": "datum.s == 'Co XMCD'"}], "mark": {"type": "line", "strokeWidth": 3.5, "color": "#1b2080", "clip": true}, "encoding": {"order": {"field": "i", "type": "quantitative"}}},
  {"transform": [{"filter": "datum.s == 'Major loop'"}], "mark": {"type": "line", "strokeWidth": 1, "color": "#222222", "clip": true}, "encoding": {"order": {"field": "i", "type": "quantitative"}}},
  {"transform": [{"filter": "datum.s == 'Major loop'"}], "mark": {"type": "point", "shape": "square", "size": 14, "filled": true, "fill": "white", "stroke": "#555", "strokeWidth": 0.8, "opacity": 1}},
  {"data": {"values": [{}]}, "mark": {"type": "text", "text": "Co", "fontSize": 19, "align": "right", "baseline": "alphabetic", "color": "#111"}, "encoding": {"x": {"datum": 1.45}, "y": {"datum": -1.1}}},
  {"data": {"values": []}, "mark": {"type": "point", "opacity": 1}, "encoding": {
    "color": {"field": "s", "type": "nominal", "scale": {"domain": ["Co XMCD", "Major loop"], "range": ["#1b2080", "#222222"]}, "legend": {"title": null, "orient": "top-left", "offset": 7, "padding": 3, "encode": {"symbols": {"fill": {"value": {"expr": "datum.value === 'Co XMCD' ? '#1b2080' : '#ffffff'"}}, "strokeWidth": {"value": 1}, "opacity": {"value": 1}, "fillOpacity": {"value": 1}, "strokeOpacity": {"value": 1}}}}},
    "shape": {"field": "s", "type": "nominal", "scale": {"domain": ["Co XMCD", "Major loop"], "range": ["M-1,-0.3H4.2V0.3H-1Z", "M-1,0H1.1M2.1,0H4.2M1.1,-0.5H2.1V0.5H1.1Z"]}, "legend": {"title": null, "orient": "top-left", "offset": 7, "padding": 3, "encode": {"symbols": {"fill": {"value": {"expr": "datum.value === 'Co XMCD' ? '#1b2080' : '#ffffff'"}}, "strokeWidth": {"value": 1}, "opacity": {"value": 1}, "fillOpacity": {"value": 1}, "strokeOpacity": {"value": 1}}}}}
  }}
]
},
{
"width": 274, "height": 156,
"title": {"text": "(d)", "dx": -56, "offset": 0, "dy": 14},
"data": {"name": "d"},
"transform": [{"window": [{"op": "row_number", "as": "i"}]}],
"encoding": {
  "x": {"field": "x", "type": "quantitative", "scale": {"domain": [-0.4, 0.4], "nice": false, "zero": false}, "axis": {"values": [-0.4,-0.35,-0.3,-0.25,-0.2,-0.15,-0.1,-0.05,0,0.05,0.1,0.15,0.2,0.25,0.3,0.35,0.4], "labelExpr": "abs(datum.value*5 - round(datum.value*5)) < 0.000001 ? replace(format(datum.value, '.1f'), '\u2212', '-') : ''", "title": "Field (T)", "titlePadding": 5}},
  "y": {"field": "y", "type": "quantitative", "scale": {"domain": [-1.2, 1.2], "nice": false}, "axis": {"values": [-1,-0.75,-0.5,-0.25,0,0.25,0.5,0.75,1], "labelExpr": "abs(datum.value*2 - round(datum.value*2)) < 0.000001 ? replace(format(datum.value, '.1f'), '\u2212', '-') : ''", "title": "Norm. Magnetization"}}
},
"layer": [
  {"data": {"values": [{}]}, "mark": {"type": "rule", "color": "#444", "strokeWidth": 1}, "encoding": {"y": {"datum": 0}, "x": {"datum": -0.4}, "x2": {"datum": 0.4}}},
  {"data": {"values": [{}]}, "mark": {"type": "rule", "color": "#444", "strokeWidth": 1}, "encoding": {"x": {"datum": 0}, "y": {"datum": -1.2}, "y2": {"datum": 1.2}}},
  {"transform": [{"filter": "datum.s == 'Biased at 1.4T'"}], "mark": {"type": "line", "strokeWidth": 3.5, "color": "#ee2d24", "clip": true}, "encoding": {"order": {"field": "i", "type": "quantitative"}}},
  {"transform": [{"filter": "datum.s == 'Biased at -1.4T'"}], "mark": {"type": "line", "strokeWidth": 3.5, "color": "#1f38d8", "clip": true}, "encoding": {"order": {"field": "i", "type": "quantitative"}}},
  {"transform": [{"filter": "datum.s == 'Major loop'"}], "mark": {"type": "line", "strokeWidth": 1, "color": "#222222", "clip": true}, "encoding": {"detail": {"field": "g"}, "order": {"field": "i", "type": "quantitative"}}},
  {"transform": [{"filter": "datum.s == 'Major loop'"}], "mark": {"type": "point", "shape": "square", "size": 14, "filled": true, "fill": "white", "stroke": "#555", "strokeWidth": 0.8, "opacity": 1}},
  {"data": {"values": [{}]}, "mark": {"type": "text", "text": "Mn", "fontSize": 19, "align": "right", "baseline": "alphabetic", "color": "#111"}, "encoding": {"x": {"datum": 0.39}, "y": {"datum": -1.1}}},
  {"data": {"values": []}, "mark": {"type": "point", "opacity": 1}, "encoding": {
    "color": {"field": "s", "type": "nominal", "scale": {"domain": ["Biased at 1.4T", "Biased at -1.4T", "Major loop"], "range": ["#ee2d24", "#1f38d8", "#222222"]}, "legend": {"title": null, "orient": "top-left", "offset": 5, "padding": 2, "encode": {"symbols": {"fill": {"value": {"expr": "datum.value === 'Biased at 1.4T' ? '#ee2d24' : datum.value === 'Biased at -1.4T' ? '#1f38d8' : '#ffffff'"}}, "strokeWidth": {"value": 1}, "opacity": {"value": 1}, "fillOpacity": {"value": 1}, "strokeOpacity": {"value": 1}}}}},
    "shape": {"field": "s", "type": "nominal", "scale": {"domain": ["Biased at 1.4T", "Biased at -1.4T", "Major loop"], "range": ["M-1,-0.3H4.2V0.3H-1Z", "M-1,-0.3H4.2V0.3H-1Z", "M-1,0H1.1M2.1,0H4.2M1.1,-0.5H2.1V0.5H1.1Z"]}, "legend": {"title": null, "orient": "top-left", "offset": 5, "padding": 2, "encode": {"symbols": {"fill": {"value": {"expr": "datum.value === 'Biased at 1.4T' ? '#ee2d24' : datum.value === 'Biased at -1.4T' ? '#1f38d8' : '#ffffff'"}}, "strokeWidth": {"value": 1}, "opacity": {"value": 1}, "fillOpacity": {"value": 1}, "strokeOpacity": {"value": 1}}}}}
  }}
]
}
]
}
